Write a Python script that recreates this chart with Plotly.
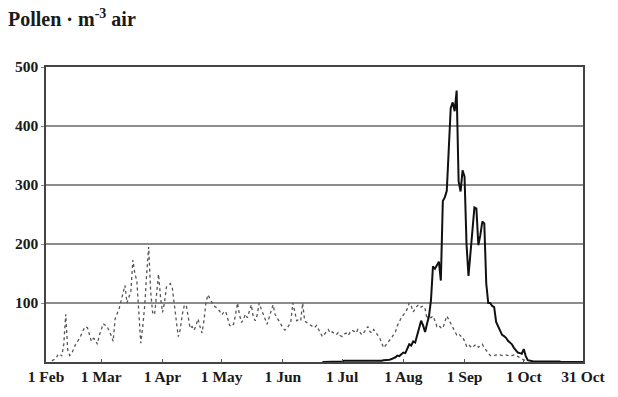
import pandas as pd
import plotly.graph_objects as go

SEASON_START = pd.Timestamp("2001-02-01")

# Dotted series: day offset from 1 Feb and daily pollen count
dotted_days = [
    3, 5, 6, 7, 8, 9, 10, 11, 12, 13, 15, 17, 19, 20, 21, 22, 23, 24, 25, 26, 27, 29, 30, 31, 33, 34, 35,
    37, 38, 39, 40, 41, 42, 43, 44, 45, 46, 47, 48, 49, 50, 51, 52, 53, 54, 55, 56, 57, 58, 59, 60,
    61, 62, 63, 64, 65, 66, 67, 68, 69, 70, 71, 72, 73, 74, 75, 76, 77, 78, 79, 80, 81, 82, 83, 84,
    85, 86, 87, 88, 89, 90, 91, 92, 93, 94, 95, 96, 97, 98, 99, 100, 101, 102, 103, 104, 105, 106,
    107, 108, 109, 110, 111, 112, 113, 114, 115, 116, 117, 118, 119, 120, 121, 122, 123, 124, 125,
    126, 127, 128, 129, 130, 131, 132, 133, 134, 135, 136, 137, 138, 139, 140, 141, 142, 143, 144,
    145, 146, 147, 148, 149, 150, 151, 152, 153, 154, 155, 156, 157, 158, 159, 160, 161, 162, 163,
    164, 165, 166, 167, 168, 169, 170, 171, 172, 173, 174, 175, 176, 177, 178, 179, 180, 181, 182,
    183, 184, 185, 186, 187, 188, 189, 190, 191, 192, 193, 194, 195, 196, 197, 198, 199, 200, 201,
    202, 203, 204, 205, 206, 207, 208, 209, 210, 211, 212, 213, 214, 215, 216, 217, 218, 219, 220,
    221, 222, 223, 224, 225, 226, 227, 228, 229, 230, 231, 232, 233, 234, 235, 236, 237, 238, 239,
    240, 241, 242, 243, 244,
]
dotted_values = [
    2, 6, 12, 14, 10, 30, 81, 20, 11, 14, 30, 40, 55, 60, 58, 48, 35, 40, 38, 30, 45, 65, 63, 60, 45, 35, 73,
    90, 103, 115, 130, 100, 110, 120, 173, 150, 138, 80, 32, 60, 95, 150, 195, 120, 84, 80, 110, 149, 110, 84, 100,
    127, 130, 133, 125, 101, 70, 43, 55, 80, 95, 97, 75, 57, 60, 54, 62, 73, 60, 49, 70, 100, 114, 108, 100,
    95, 93, 90, 86, 80, 84, 86, 75, 62, 60, 64, 80, 100, 80, 67, 72, 81, 75, 85, 97, 76, 70,
    80, 100, 90, 81, 72, 64, 75, 88, 97, 81, 75, 68, 64, 58, 54, 57, 62, 68, 100,
    85, 70, 72, 70, 100, 70, 67, 65, 62, 60, 58, 62, 55, 48, 43, 47, 51, 55, 49,
    51, 48, 46, 50, 45, 43, 47, 49, 45, 50, 54, 52, 49, 55, 50, 46, 50, 54, 60,
    52, 49, 55, 51, 45, 41, 33, 24, 28, 32, 36, 41, 46, 51, 62, 70, 75, 80, 84,
    90, 100, 95, 85, 90, 95, 97, 93, 95, 90, 73, 80, 75, 78, 70, 60, 62, 58, 57,
    70, 78, 72, 65, 60, 52, 46, 48, 44, 43, 35, 27, 30, 26, 24, 28, 30, 25, 27,
    30, 24, 19, 14, 11, 10, 11, 12, 11, 12, 11, 12, 12, 11, 12, 11, 12, 11, 9,
    7, 5, 3, 2, 1,
]

# Solid series: daily counts starting 140 days after 1 Feb
solid_first_day = 140
solid_values = [
    0, 0, 1, 0, 1, 1, 0, 1, 1, 1, 1, 2, 2, 1, 1, 2, 2, 2, 1, 1, 2, 2, 1, 2, 2, 2,
    2, 2, 2, 2, 2, 3, 3, 4, 4, 5, 6, 8, 11, 10, 13, 16, 15, 22, 30, 28, 35, 33, 45,
    54, 70, 62, 51, 65, 78, 105, 162, 158, 165, 170, 138, 273, 279, 290, 360, 430,
    440, 425, 460, 306, 289, 325, 314, 200, 146, 187, 230, 262, 260, 198, 215, 238,
    235, 133, 100, 100, 95, 93, 68, 60, 52, 46, 44, 41, 36, 33, 30, 24, 19, 16, 15,
    14, 22, 10, 3, 2, 1, 1, 1, 1, 1, 1, 1, 1, 1, 1, 1, 2, 1, 1, 1, 0, 0, 0, 0, 0,
    0, 0, 0, 0, 0, 0, 0,
]

x_tick_dates = ["2001-02-01", "2001-03-01", "2001-04-01", "2001-05-01", "2001-06-01",
                "2001-07-01", "2001-08-01", "2001-09-01", "2001-10-01", "2001-10-31"]
x_tick_text = ["1 Feb", "1 Mar", "1 Apr", "1 May", "1 Jun",
               "1 Jul", "1 Aug", "1 Sep", "1 Oct", "31 Oct"]
y_tick_vals = [100, 200, 300, 400, 500]

dotted_dates = [SEASON_START + pd.Timedelta(days=d) for d in dotted_days]
solid_dates = [SEASON_START + pd.Timedelta(days=solid_first_day + i) for i in range(len(solid_values))]

serif = "Liberation Serif, Times New Roman, serif"

fig = go.Figure()
fig.add_trace(go.Scatter(
    x=dotted_dates, y=dotted_values, mode="lines",
    line=dict(color="#555555", width=1.3, dash="dot"),
    showlegend=False,
))
fig.add_trace(go.Scatter(
    x=solid_dates, y=solid_values, mode="lines",
    line=dict(color="#111111", width=2),
    showlegend=False,
))

fig.update_layout(
    width=618, height=397,
    margin=dict(l=46, r=25, t=67, b=22),
    paper_bgcolor="white", plot_bgcolor="white",
    font=dict(family=serif, color="#1a1a1a"),
    title=dict(
        text="Pollen · m<sup>-3</sup> air",
        x=8 / 618, xanchor="left", xref="container",
        y=1 - 19 / 397, yanchor="middle", yref="container",
        font=dict(family=serif, size=20, weight="bold", color="#1a1a1a"),
    ),
)
fig.update_xaxes(
    type="date",
    range=["2001-02-01", "2001-10-31"],
    tickvals=x_tick_dates, ticktext=x_tick_text,
    tickfont=dict(family=serif, size=15.5, weight="bold"),
    ticks="inside", ticklen=3, tickcolor="#555555",
    showgrid=False, zeroline=False,
    showline=True, linecolor="#444444", linewidth=1.5, mirror=True,
)
fig.update_yaxes(
    range=[0, 500],
    tickvals=y_tick_vals,
    tickfont=dict(family=serif, size=15.5, weight="bold"),
    ticks="outside", ticklen=3, tickcolor="#888888",
    showgrid=True, gridcolor="#8c8c8c", gridwidth=1.5,
    zeroline=False,
    showline=True, linecolor="#444444", linewidth=1.5, mirror=True,
)

fig.write_html("out.html")
